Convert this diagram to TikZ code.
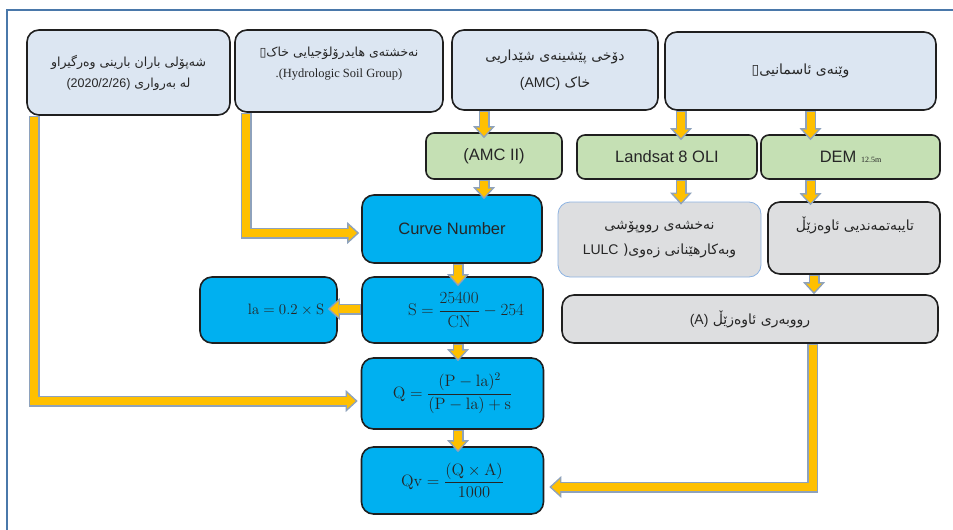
\RequirePackage{fix-cm}
\documentclass[tikz,border=0pt]{standalone}
\usepackage{amsmath}
\usepackage[no-math]{fontspec}
\usetikzlibrary{arrows.meta,calc}
\setmainfont{Liberation Sans}
\newfontfamily\ku[Script=Arabic]{DejaVu Sans}
\newfontfamily\lserif{Liberation Serif}
\newfontfamily\lsans{Liberation Sans}
\newfontfamily\symf{DejaVu Sans}
\TeXXeTstate=1
\definecolor{boxblue}{HTML}{DCE6F2}
\definecolor{boxgreen}{HTML}{C5E0B4}
\definecolor{boxcyan}{HTML}{00B0F0}
\definecolor{boxgray}{HTML}{DDDEE0}
\definecolor{boxline}{HTML}{1F1F1F}
\definecolor{lulcline}{HTML}{8DB3E2}
\definecolor{txt}{HTML}{262626}
\definecolor{ayellow}{HTML}{FFC000}
\definecolor{aborder}{HTML}{8EA2BC}
\definecolor{framec}{HTML}{4A78AA}
\tikzset{
  box/.style={draw=boxline, line width=1.6pt, rounded corners=12pt, inner sep=0pt, text=txt, align=center},
  topbox/.style={box, fill=boxblue},
  greenbox/.style={box, fill=boxgreen, rounded corners=8pt},
  cyanbox/.style={box, fill=boxcyan},
  graybox/.style={box, fill=boxgray},
  lulcbox/.style={box, fill=boxgray, draw=lulcline, line width=0.8pt},
  lbl/.style={inner sep=0pt, text=txt, align=center},
  kusmall/.style={font=\ku\fontsize{12.5}{21}\selectfont},
  kubig/.style={font=\ku\fontsize{14}{21}\selectfont},
  latext/.style={font=\fontsize{16.5}{19}\selectfont},
  eqtext/.style={font=\fontsize{16.5}{20}\selectfont},
  eqsmall/.style={font=\fontsize{15}{18}\selectfont},
  barrow/.style={draw=ayellow, line width=8pt, shorten >=2.2pt, shorten <=1.5pt,
    -{Triangle[width=15.5pt,length=8.5pt,line width=0pt]},
    preaction={draw=aborder, line width=11pt, shorten >=0pt, shorten <=0pt,
      -{Triangle[width=22pt,length=12pt,line width=0pt]}}},
  framestyle/.style={draw=framec, line width=2.5pt},
}
\begin{document}
\begin{tikzpicture}[x=1pt,y=-1pt]
\useasboundingbox (0,0) rectangle (953,530);
\draw[framestyle] (7,530) -- (7,10) -- (953,10);

% top row
\node[topbox, minimum width=203pt, minimum height=85pt, kusmall] (b1) at (128.5,72.5)
  {\beginR شەپۆلی باران بارینی وەرگیراو\endR\\ \beginR لە بەرواری \beginL{\lsans(2020/2/26)}\endL\endR};
\node[topbox, minimum width=208pt, minimum height=82pt] (b2) at (339,71) {};
\node[lbl, kusmall] (b2t) at (339,64)
  {\beginR نەخشتەی هایدرۆلۆجیایی خاک{\symf ▯}\endR\\ {\lserif .(Hydrologic Soil Group)}};
\node[topbox, minimum width=206pt, minimum height=80pt, font=\ku\fontsize{14}{27}\selectfont] (b3) at (555,70)
  {\beginR دۆخی پێشینەی شێداریی\endR\\ \beginR خاک \beginL{\lsans(AMC)}\endL\endR};
\node[topbox, minimum width=271pt, minimum height=78pt, kubig] (b4) at (800.5,71)
  {\beginR وێنەی ئاسمانیی{\symf ▯}\endR};

% green row
\node[greenbox, minimum width=136pt, minimum height=46pt, latext] (amc) at (494,156) {(AMC II)};
\node[greenbox, minimum width=180pt, minimum height=44pt, latext] (lsat) at (667,157) {Landsat 8 OLI};
\node[greenbox, minimum width=179pt, minimum height=44pt, latext] (dem) at (850.5,157)
  {DEM {\lserif\fontsize{8}{9}\selectfont 12.5m}};

% gray boxes
\node[lulcbox, minimum width=203pt, minimum height=75pt, font=\ku\fontsize{14}{25}\selectfont] (lulc) at (659.5,239.5)
  {\beginR نەخشەی رووپۆشی\endR\\ {\lsans LULC} (\beginR وبەکارهێنانی زەوی\endR};
\node[graybox, minimum width=172pt, minimum height=72pt] (tay) at (854,238) {};
\node[lbl, kubig] (tayt) at (855,225) {\beginR تایبەتمەندیی ئاوەزێڵ\endR};
\node[graybox, minimum width=376pt, minimum height=48pt, kubig] (area) at (750,319)
  {\beginR رووبەری ئاوەزێڵ \beginL{\lsans(A)}\endL\endR};

% cyan boxes
\node[cyanbox, minimum width=180pt, minimum height=68pt, latext] (cn) at (452,229) {Curve Number};
\node[cyanbox, minimum width=181pt, minimum height=66pt] (s) at (452.5,310) {};
\node[lbl, font=\fontsize{17}{20}\selectfont] (st) at (466,310) {$\mathrm{S}=\dfrac{25400}{\mathrm{CN}}-254$};
\node[cyanbox, minimum width=137pt, minimum height=66pt] (ia) at (268.5,310) {};
\node[lbl, eqsmall] (iat) at (286,310) {$\mathrm{la}=0.2\times\mathrm{S}$};
\node[cyanbox, minimum width=182pt, minimum height=71pt, eqtext] (q) at (452.5,393.5)
  {$\mathrm{Q}=\dfrac{(\mathrm{P}-\mathrm{la})^2}{(\mathrm{P}-\mathrm{la})+\mathrm{s}}$};
\node[cyanbox, minimum width=182pt, minimum height=67pt, eqtext] (qv) at (452.5,480.5)
  {$\mathrm{Qv}=\dfrac{(\mathrm{Q}\times\mathrm{A})}{1000}$};

% helper coordinates
\coordinate (k1) at (34,401);
\coordinate (k2) at (246,233);
\coordinate (x3) at (484,0);
\coordinate (x4) at (681,0);
\coordinate (x5) at (810.5,0);
\coordinate (x6) at (814,0);
\coordinate (k10) at (812.5,487);
\coordinate (xc) at (458,0);
\coordinate (y12) at (0,309);

% arrows
\draw[barrow] (b1.south -| k1) -- (k1) -- ($(k1 -| q.west)+(-3,0)$);
\draw[barrow] (b2.south -| k2) -- (k2) -- ($(k2 -| cn.west)+(-2,0)$);
\draw[barrow] (b3.south -| x3) -- ($(amc.north -| x3)+(0,6)$);
\draw[barrow] (amc.south -| x3) -- ($(cn.north -| x3)+(0,5)$);
\draw[barrow] (b4.south -| x4) -- ($(lsat.north -| x4)+(0,6)$);
\draw[barrow] (b4.south -| x5) -- ($(dem.north -| x5)+(0,6)$);
\draw[barrow] (lsat.south -| x4) -- ($(lulc.north -| x4)+(0,3)$);
\draw[barrow] (dem.south -| x5) -- ($(tay.north -| x5)+(0,4)$);
\draw[barrow] (tay.south -| x6) -- ($(area.north -| x6)+(0,0)$);
\draw[barrow] (area.south -| k10) -- (k10) -- ($(k10 -| qv.east)+(5,0)$);
\draw[barrow] (cn.south -| xc) -- ($(s.north -| xc)+(0,10)$);
\draw[barrow] (s.west |- y12) -- ($(ia.east |- y12)+(-10,0)$);
\draw[barrow] (s.south -| xc) -- ($(q.north -| xc)+(0,4)$);
\draw[barrow] (q.south -| xc) -- ($(qv.north -| xc)+(0,6)$);
\end{tikzpicture}
\end{document}
